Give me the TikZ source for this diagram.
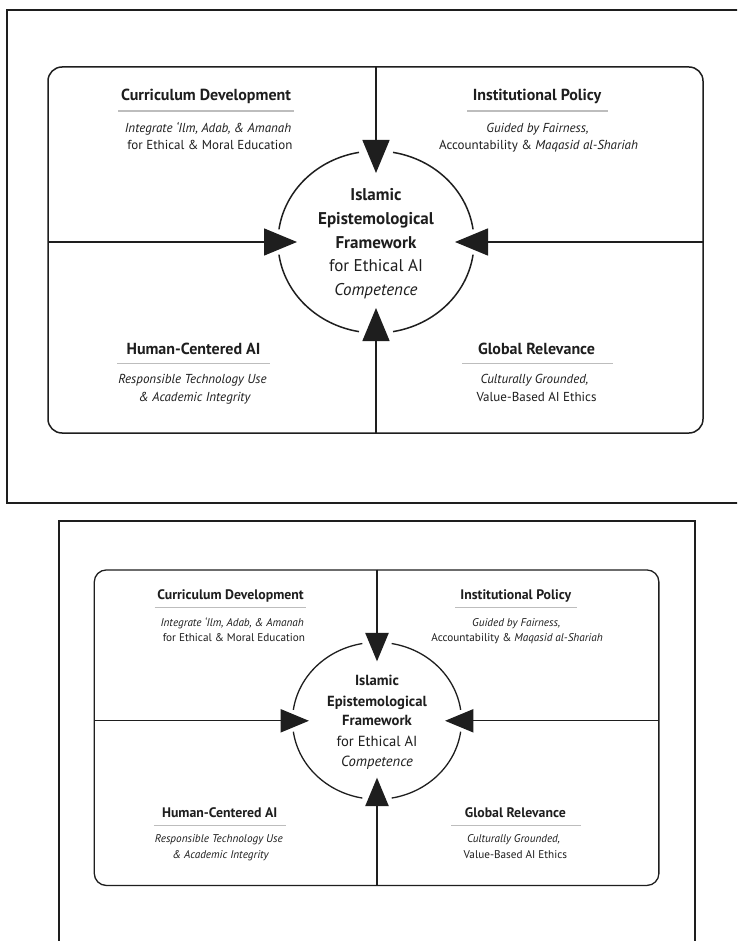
\documentclass[tikz,border=0pt]{standalone}
\usepackage{fontspec}
\setmainfont{PT Sans}
\usetikzlibrary{arrows.meta}
\definecolor{ink}{HTML}{1E1E1E}
\definecolor{rulegray}{HTML}{BDBDBD}
\tikzset{
  x=1pt, y=-1pt,
  framepen/.style={draw=ink, line width=1.6pt},
  boardpen/.style={draw=ink, line width=1.5pt, rounded corners=14pt},
  ringpen/.style={draw=ink, line width=1.5pt},
  feedpen/.style={draw=ink, fill=ink, line width=1.5pt, -{Triangle[width=27pt,length=33pt]}},
  headrule/.style={draw=rulegray, line width=1.1pt},
  headtext/.style={anchor=base, inner sep=0pt, text=ink, font=\fontsize{16}{18}\selectfont\bfseries},
  subtext/.style={anchor=base, inner sep=0pt, text=ink, font=\fontsize{13}{15}\selectfont},
  hubtext/.style={anchor=base, inner sep=0pt, text=ink, font=\fontsize{17}{20}\selectfont},
  % one complete board: outer frame, quadrants, central ring and the four feeds
  quadboard/.pic={
    \draw[framepen] (7,10) rectangle (745,503);
    \draw[boardpen] (48,67) rectangle (703,433);
    % centre of the ring
    \node[inner sep=0pt, minimum size=0pt] (-hub) at (376,242) {};
    \draw[ringpen] (-hub.center) ++(8:98 and 91) arc[start angle=8, end angle=80, x radius=98, y radius=91];
    \draw[ringpen] (-hub.center) ++(100:98 and 91) arc[start angle=100, end angle=172, x radius=98, y radius=91];
    \draw[ringpen] (-hub.center) ++(188:98 and 91) arc[start angle=188, end angle=260, x radius=98, y radius=91];
    \draw[ringpen] (-hub.center) ++(280:98 and 91) arc[start angle=280, end angle=352, x radius=98, y radius=91];
    % feeds from the board edges into the ring
    \coordinate (-n) at (376,67);
    \coordinate (-s) at (376,433);
    \coordinate (-w) at (48,242);
    \coordinate (-e) at (703,242);
    \coordinate (-tn) at (376,173);
    \coordinate (-ts) at (376,308);
    \coordinate (-tw) at (297,242);
    \coordinate (-te) at (455,242);
    \draw[feedpen] (-n) -- (-tn);
    \draw[feedpen] (-s) -- (-ts);
    \draw[feedpen] (-w) -- (-tw);
    \draw[feedpen] (-e) -- (-te);
    % central label
    \node[hubtext, font=\fontsize{17}{20}\selectfont\bfseries] (-h1) at (376,201) {Islamic};
    \node[hubtext, font=\fontsize{17}{20}\selectfont\bfseries] (-h2) at (376,225) {Epistemological};
    \node[hubtext, font=\fontsize{17}{20}\selectfont\bfseries] (-h3) at (376,248) {Framework};
    \node[hubtext] (-h4) at (376,271.5) {for Ethical AI};
    \node[hubtext, font=\fontsize{17}{20}\selectfont\itshape] (-h5) at (376,295) {Competence};
    % top left
    \node[headtext] (-cd) at (206,101) {Curriculum Development};
    \draw[headrule] (118,111) -- (294,111);
    \node[subtext, font=\fontsize{13}{15}\selectfont\itshape] (-cd1) at (208,132.5) {Integrate ‘Ilm, Adab, \& Amanah};
    \node[subtext] (-cd2) at (210,150) {for Ethical \& Moral Education};
    % top right
    \node[headtext] (-ip) at (537,101) {Institutional Policy};
    \draw[headrule] (467,111) -- (608,111);
    \node[subtext, font=\fontsize{13}{15}\selectfont\itshape] (-ip1) at (537.5,132.5) {Guided by Fairness,};
    \node[subtext] (-ip2) at (538.5,150) {Accountability \& \textit{Maqasid al-Shariah}};
    % bottom left
    \node[headtext] (-hc) at (193.5,354) {Human-Centered AI};
    \draw[headrule] (117,363.5) -- (270,363.5);
    \node[subtext, font=\fontsize{13}{15}\selectfont\itshape] (-hc1) at (192.5,383) {Responsible Technology Use};
    \node[subtext, font=\fontsize{13}{15}\selectfont\itshape] (-hc2) at (194.5,401.5) {\& Academic Integrity};
    % bottom right
    \node[headtext] (-gr) at (536.5,354) {Global Relevance};
    \draw[headrule] (462,363.5) -- (613,363.5);
    \node[subtext, font=\fontsize{13}{15}\selectfont\itshape] (-gr1) at (534.5,383) {Culturally Grounded,};
    \node[subtext] (-gr2) at (536.5,401.5) {Value-Based AI Ethics};
  }
}
\begin{document}
\begin{tikzpicture}
  \useasboundingbox (0,0) rectangle (737,941);
  \fill[white] (0,0) rectangle (737,941);
  \clip (0,0) rectangle (737,941);
  \pic (A) at (0,0) {quadboard};
  \pic[scale=0.862, transform shape,
       framepen/.style={draw=ink, line width=1.4pt},
       boardpen/.style={draw=ink, line width=1.3pt, rounded corners=12pt},
       ringpen/.style={draw=ink, line width=1.3pt},
       feedpen/.style={draw=ink, fill=ink, line width=1.3pt, -{Triangle[width=23.3pt,length=28.4pt]}},
       headrule/.style={draw=rulegray, line width=1pt}] (B) at (52.9,512.2) {quadboard};
\end{tikzpicture}
\end{document}
